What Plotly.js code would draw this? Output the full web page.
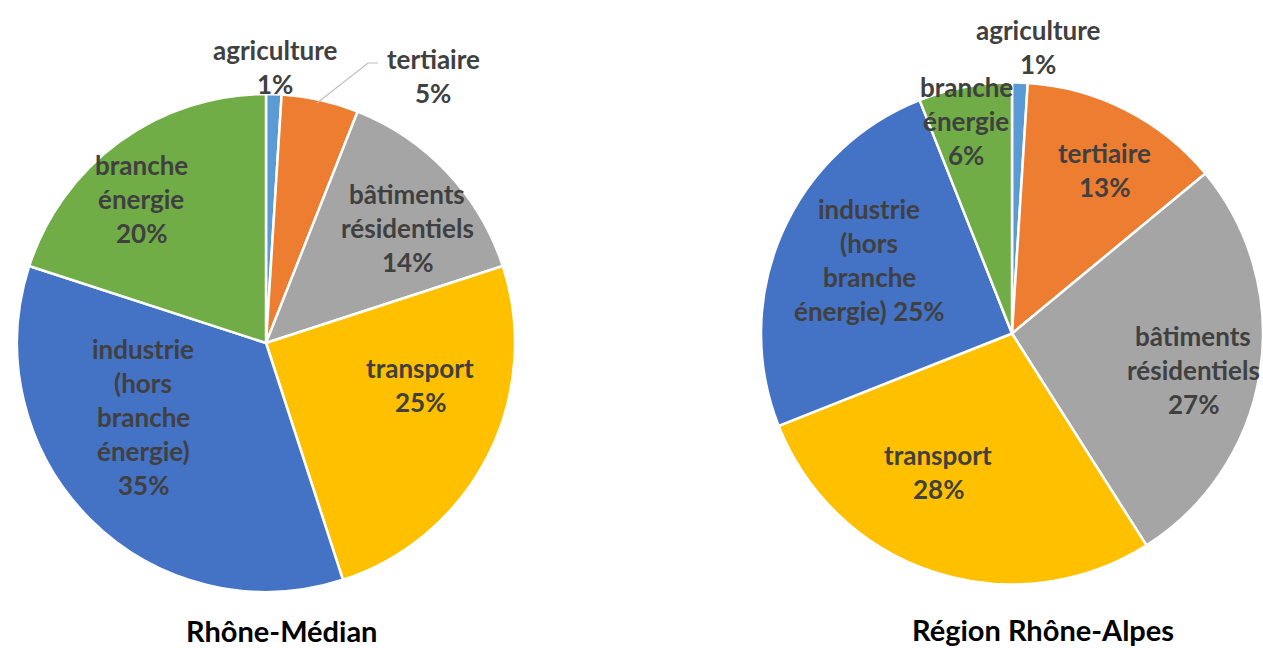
<!DOCTYPE html>
<html>
<head>
<meta charset="utf-8">
<script src="https://cdn.plot.ly/plotly-3.0.1.min.js"></script>
<style>html,body{margin:0;padding:0;background:#fff;}#chart{width:1263px;height:648px;}</style>
</head>
<body>
<div id="chart"></div>
<script>
// ---- data ----
const categories = ['agriculture', 'tertiaire', 'bâtiments résidentiels', 'transport', 'industrie (hors branche énergie)', 'branche énergie'];
const valuesRhoneMedian = [1, 5, 14, 25, 35, 20];
const valuesRhoneAlpes = [1, 13, 27, 28, 25, 6];
const chartTitles = ['Rhône-Médian', 'Région Rhône-Alpes'];
const sliceColors = ['#5B9BD5', '#ED7D31', '#A5A5A5', '#FFC000', '#4472C4', '#70AD47'];

// ---- layout helpers ----
const W = 1263, H = 648;
const px = x => x / W;
const py = y => 1 - y / H;

// label layout: centre x, first line y, word groups per line, pct inline on last line?
const labelLayoutLeft = [
  {x: 275, y: 50, groups: [1], inline: false},
  {x: 433, y: 59, groups: [1], inline: false},
  {x: 407, y: 194, groups: [1, 1], inline: false},
  {x: 420, y: 368, groups: [1], inline: false},
  {x: 143, y: 349, groups: [1, 1, 1, 1], inline: false},
  {x: 141, y: 165, groups: [1, 1], inline: false}
];
const labelLayoutRight = [
  {x: 1038, y: 30, groups: [1], inline: false},
  {x: 1104, y: 153, groups: [1], inline: false},
  {x: 1193, y: 336, groups: [1, 1], inline: false},
  {x: 938, y: 455, groups: [1], inline: false},
  {x: 869, y: 209, groups: [1, 1, 1, 1], inline: true},
  {x: 966, y: 87, groups: [1, 1], inline: false}
];
const LINE_H = 34;
const labelFont = {family: 'Lato, "Open Sans", sans-serif', size: 26, color: '#404040', weight: 'bold'};

function buildLabels(values, lay) {
  const anns = [];
  categories.forEach((cat, i) => {
    const words = cat.split(' ');
    const L = lay[i];
    const lines = [];
    let k = 0;
    L.groups.forEach(g => { lines.push(words.slice(k, k + g).join(' ')); k += g; });
    const pct = values[i] + '%';
    if (L.inline) lines[lines.length - 1] += ' ' + pct; else lines.push(pct);
    lines.forEach((t, j) => {
      anns.push({
        xref: 'paper', yref: 'paper', x: px(L.x), y: py(L.y + j * LINE_H),
        xanchor: 'center', yanchor: 'middle', showarrow: false,
        text: '<b>' + t + '</b>', font: labelFont
      });
    });
  });
  return anns;
}

const pieCommon = {
  type: 'pie', labels: categories, sort: false, direction: 'clockwise', rotation: 0,
  textinfo: 'none', hoverinfo: 'label+percent', showlegend: false,
  marker: {colors: sliceColors, line: {color: '#FFFFFF', width: 2.5}}
};

const traces = [
  Object.assign({}, pieCommon, {
    values: valuesRhoneMedian, name: chartTitles[0],
    domain: {x: [px(17), px(515)], y: [py(592), py(94)]}
  }),
  Object.assign({}, pieCommon, {
    values: valuesRhoneAlpes, name: chartTitles[1],
    domain: {x: [px(761), 1], y: [py(585), py(82)]}
  })
];

const titleFont = {family: 'Lato, "Open Sans", sans-serif', size: 29, color: '#000000', weight: 'bold'};
const annotations = buildLabels(valuesRhoneMedian, labelLayoutLeft)
  .concat(buildLabels(valuesRhoneAlpes, labelLayoutRight))
  .concat([
    {xref: 'paper', yref: 'paper', x: px(281), y: py(630), xanchor: 'center', yanchor: 'middle', showarrow: false, text: '<b>' + chartTitles[0] + '</b>', font: titleFont},
    {xref: 'paper', yref: 'paper', x: px(1043), y: py(629), xanchor: 'center', yanchor: 'middle', showarrow: false, text: '<b>' + chartTitles[1] + '</b>', font: titleFont}
  ]);

const layout = {
  width: W, height: H,
  margin: {l: 0, r: 0, t: 0, b: 0},
  paper_bgcolor: '#FFFFFF',
  annotations: annotations,
  shapes: [
    {type: 'path', xref: 'paper', yref: 'paper',
     path: 'M ' + px(317) + ' ' + py(103) + ' L ' + px(368) + ' ' + py(63) + ' L ' + px(378) + ' ' + py(63),
     line: {color: '#BFBFBF', width: 1.2}}
  ]
};

Plotly.newPlot('chart', traces, layout, {displayModeBar: false, staticPlot: true});
</script>
</body>
</html>
